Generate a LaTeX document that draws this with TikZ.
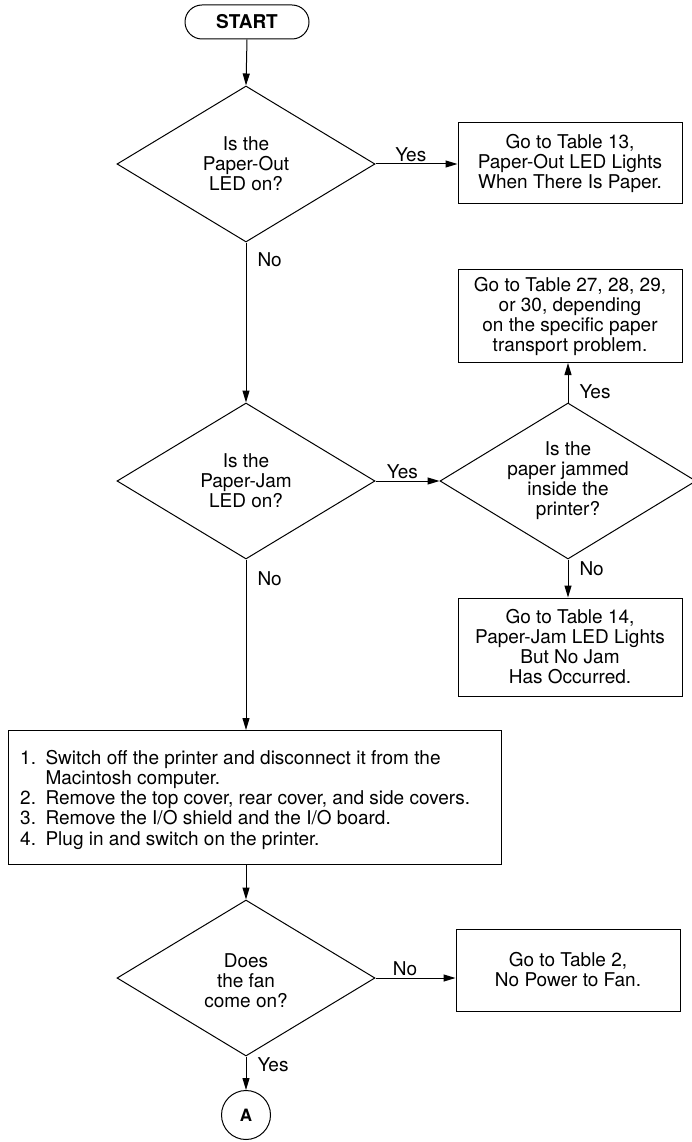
\documentclass[tikz,border=0pt]{standalone}
\usepackage{fontspec}
\setmainfont{TeX Gyre Heros}
\usetikzlibrary{shapes.geometric,shapes.misc,arrows.meta}
\begin{document}
\begin{tikzpicture}[x=1pt,y=-1pt,
  every node/.style={font=\fontsize{19}{20}\selectfont},
  ln/.style={line width=1pt},
  arr/.style={ln,-{Triangle[length=12pt,width=7pt]}},
  dia/.style={draw,ln,diamond,minimum width=258pt,minimum height=156pt,inner sep=0pt},
  diatxt/.style={align=center,inner sep=0pt},
  outbox/.style={draw,ln,rectangle,minimum width=224pt,align=center,inner sep=0pt},
  term/.style={draw,ln,rounded rectangle,minimum width=124pt,minimum height=34pt,inner sep=0pt,font=\fontsize{19}{20}\selectfont\bfseries},
  lbl/.style={inner sep=2pt},
  lblr/.style={right,inner sep=0pt,xshift=11pt}
]
\useasboundingbox (0,0) rectangle (692,1142);
% nodes
\node[term] (start) at (247,22) {START};
\node[dia] (d1) at (246,164) {};
\node[diatxt] (t1) at (d1.center) {Is the\\Paper-Out\\LED on?};
\node[outbox,minimum height=80pt] (b1) at (570,163) {Go to Table 13,\\Paper-Out LED Lights\\When There Is Paper.};
\node[dia] (d2) at (246,481) {};
\node[diatxt] (t2) at (d2.center) {Is the\\Paper-Jam\\LED on?};
\node[dia,minimum width=256pt] (d3) at (568,481) {};
\node[diatxt] (t3) at (d3.center) {Is the\\paper jammed\\inside the\\printer?};
\node[outbox,minimum height=93pt] (b2) at (570,316) {Go to Table 27, 28, 29,\\or 30, depending\\on the specific paper\\transport problem.};
\node[outbox,minimum height=98pt] (b3) at (570,647) {Go to Table 14,\\Paper-Jam LED Lights\\But No Jam\\Has Occurred.};
\node[draw,ln,rectangle,anchor=north west,minimum width=493pt,minimum height=134pt] (big) at (8,730) {};
\node[anchor=west,inner sep=0pt,font=\fontsize{19}{20.2}\selectfont] (bigtxt) at ([xshift=12pt,yshift=-3pt]big.west)
  {\begin{tabular}{@{}r@{\hspace{0.5em}}l@{}}
   1. & Switch off the printer and disconnect it from the\\
      & Macintosh computer.\\
   2. & Remove the top cover, rear cover, and side covers.\\
   3. & Remove the I/O shield and the I/O board.\\
   4. & Plug in and switch on the printer.
   \end{tabular}};
\node[dia] (d4) at (246,978) {};
\node[diatxt] (t4) at ([yshift=-3pt]d4.center) {Does\\the fan\\come on?};
\node[outbox,minimum height=82pt] (b4) at (568,970) {Go to Table 2,\\No Power to Fan.};
\node[draw,ln,circle,minimum size=49pt,inner sep=0pt,font=\fontsize{17}{17}\selectfont\bfseries] (A) at (246,1115) {A};
% connectors
\draw[arr] (start.south) -- (d1.north);
\draw[arr] (d1.east) -- node[lbl,above,pos=0.43] {Yes} (d1.east -| b1.west);
\draw[arr] (d1.south) -- node[lblr,pos=0.11] {No} (d2.north);
\draw[arr] (d2.east) -- node[lbl,above,pos=0.42] {Yes} (d3.west);
\draw[arr] (d3.north) -- node[lblr,pos=0.27] {Yes} (d3.north |- b2.south);
\draw[arr] (d3.south) -- node[lblr,pos=0.25] {No} (d3.south |- b3.north);
\draw[arr] (d2.south) -- node[lblr,pos=0.11] {No} (d2.south |- big.north);
\draw[arr] (d4.north |- big.south) -- (d4.north);
\draw[arr] (d4.east) -- node[lbl,above,pos=0.37] {No} (d4.east -| b4.west);
\draw[arr] (d4.south) -- node[lblr,pos=0.25] {Yes} (A.north);
\end{tikzpicture}
\end{document}
